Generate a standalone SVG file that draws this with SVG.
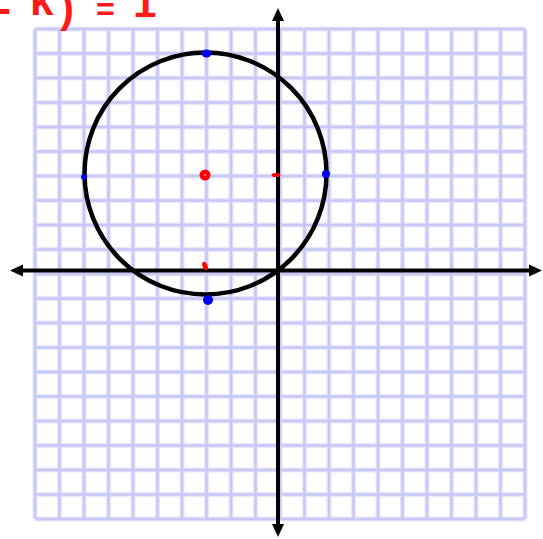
<svg xmlns="http://www.w3.org/2000/svg" width="543" height="539" viewBox="0 0 543 539">
<defs>
<style>
.gh{fill:none;stroke:#e6e6fc;stroke-width:5}
.gc{fill:none;stroke:#c8c8f6;stroke-width:2.5}
.ax{stroke:#000;stroke-width:4;fill:none}
.ah{fill:#000}
.blue{fill:#0000ee}
.red{fill:#ff0000}
</style>
<path id="gridpath" d="M35 29V519M59.5 29V519M84 29V519M108.5 29V519M133 29V519M157.5 29V519M182 29V519M206.5 29V519M231 29V519M255.5 29V519M280 29V519M304.5 29V519M329 29V519M353.5 29V519M378 29V519M402.5 29V519M427 29V519M451.5 29V519M476 29V519M500.5 29V519M525 29V519M35 29H525M35 53.5H525M35 78H525M35 102.5H525M35 127H525M35 151.5H525M35 176H525M35 200.5H525M35 225H525M35 249.5H525M35 274H525M35 298.5H525M35 323H525M35 347.5H525M35 372H525M35 396.5H525M35 421H525M35 445.5H525M35 470H525M35 494.5H525M35 519H525"/>
</defs>
<rect width="543" height="539" fill="#fff"/>
<g id="grid">
<use href="#gridpath" class="gh"/>
<use href="#gridpath" class="gc"/>
</g>
<g id="connectors">
<line class="ax" x1="20" y1="270.5" x2="532" y2="270.5"/>
<path class="ah" d="M10 270.5L23 264.5L23 276.5Z"/>
<path class="ah" d="M542 270.5L529 264.5L529 276.5Z"/>
<line class="ax" x1="278" y1="18" x2="278" y2="528"/>
<path class="ah" d="M278 8L272 21L284 21Z"/>
<path class="ah" d="M278 537L272 524L284 524Z"/>
</g>
<g id="circle">
<circle cx="205.5" cy="173.5" r="121" fill="none" stroke="#000" stroke-width="4.5"/>
</g>
<g id="points-blue">
<ellipse class="blue" cx="206.5" cy="53.5" rx="5" ry="4"/>
<circle class="blue" cx="84" cy="177" r="3"/>
<circle class="blue" cx="326" cy="174" r="4"/>
<circle class="blue" cx="208" cy="300" r="5"/>
</g>
<g id="points-red">
<circle class="red" cx="205" cy="175" r="5.5"/>
<circle cx="205" cy="175" r="1" fill="#ff9090"/>
<ellipse class="red" cx="276" cy="175" rx="4.5" ry="2"/>
<ellipse class="red" cx="205" cy="266" rx="2.5" ry="4.5" transform="rotate(-20 205 266)"/>
</g>
<g id="equation">
<text font-family="'Liberation Sans', Arial, sans-serif" font-size="42" font-weight="bold" fill="#ff1a1a"><tspan x="-3" y="23">-</tspan><tspan x="30" y="15">k</tspan><tspan x="60" y="22">)</tspan><tspan x="96" y="20" font-size="32">=</tspan><tspan x="133" y="17">1</tspan></text>
</g>
</svg>
